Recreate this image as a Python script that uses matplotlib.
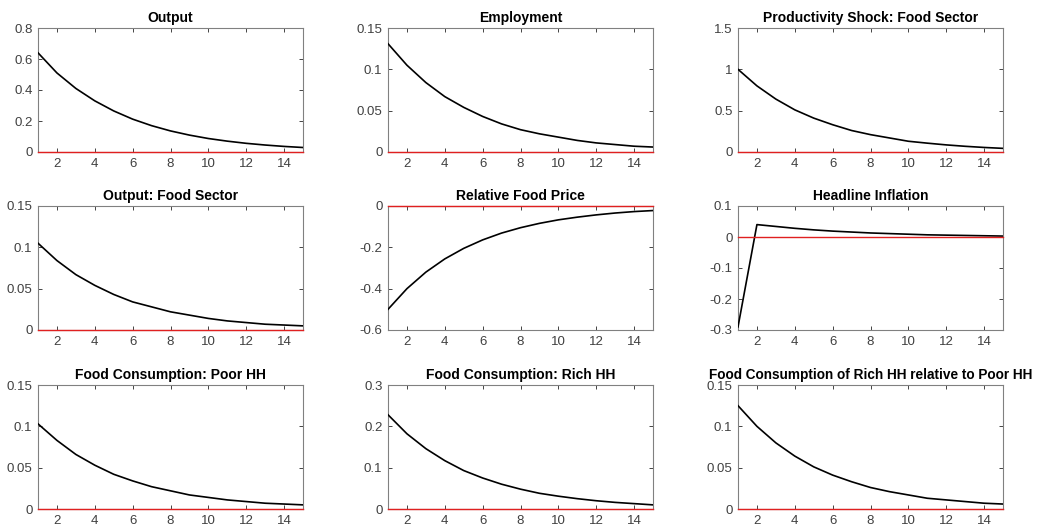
#!/usr/bin/env python3
"""Impulse responses to a food-sector productivity shock, 3x3 grid."""

import matplotlib
matplotlib.use("Agg")
import matplotlib.pyplot as plt
from matplotlib.ticker import FuncFormatter

periods = list(range(1, 16))

titles = [
    "Output",
    "Employment",
    "Productivity Shock: Food Sector",
    "Output: Food Sector",
    "Relative Food Price",
    "Headline Inflation",
    "Food Consumption: Poor HH",
    "Food Consumption: Rich HH",
    "Food Consumption of Rich HH relative to Poor HH",
]

output = [0.64, 0.51, 0.41, 0.33, 0.265, 0.212, 0.17, 0.136, 0.109, 0.087,
          0.07, 0.056, 0.045, 0.036, 0.029]
employment = [0.131, 0.105, 0.084, 0.067, 0.054, 0.043, 0.034, 0.027, 0.022,
              0.018, 0.014, 0.011, 0.009, 0.007, 0.006]
productivity = [1.0, 0.8, 0.64, 0.51, 0.41, 0.33, 0.26, 0.21, 0.17, 0.13,
                0.107, 0.086, 0.069, 0.055, 0.044]
output_food = [0.105, 0.084, 0.067, 0.054, 0.043, 0.034, 0.028, 0.022, 0.018,
               0.014, 0.011, 0.009, 0.007, 0.006, 0.005]
rel_food_price = [-0.5, -0.4, -0.32, -0.256, -0.205, -0.164, -0.131, -0.105,
                  -0.084, -0.067, -0.054, -0.043, -0.034, -0.027, -0.022]
headline_infl = [-0.29, 0.04, 0.034, 0.028, 0.023, 0.019, 0.016, 0.013,
                 0.011, 0.009, 0.007, 0.006, 0.005, 0.004, 0.003]
cons_poor = [0.103, 0.083, 0.066, 0.053, 0.042, 0.034, 0.027, 0.022, 0.017,
             0.014, 0.011, 0.009, 0.007, 0.006, 0.005]
cons_rich = [0.228, 0.182, 0.146, 0.117, 0.093, 0.075, 0.06, 0.048, 0.038,
             0.031, 0.025, 0.02, 0.016, 0.013, 0.01]
cons_rel = [0.125, 0.1, 0.08, 0.064, 0.051, 0.041, 0.033, 0.026, 0.021,
            0.017, 0.013, 0.011, 0.009, 0.007, 0.006]

series = [output, employment, productivity, output_food, rel_food_price,
          headline_infl, cons_poor, cons_rich, cons_rel]

y_ticks = [
    [0, 0.2, 0.4, 0.6, 0.8],
    [0, 0.05, 0.1, 0.15],
    [0, 0.5, 1, 1.5],
    [0, 0.05, 0.1, 0.15],
    [-0.6, -0.4, -0.2, 0],
    [-0.3, -0.2, -0.1, 0, 0.1],
    [0, 0.05, 0.1, 0.15],
    [0, 0.1, 0.2, 0.3],
    [0, 0.05, 0.1, 0.15],
]
x_ticks = [2, 4, 6, 8, 10, 12, 14]

plt.rcParams["font.family"] = ["Liberation Sans", "DejaVu Sans"]

W, H = 1037, 527
fig = plt.figure(figsize=(W / 100, H / 100), dpi=100)

col_left = [38, 388, 738]
row_bottom = [152, 330, 509]
ax_w, ax_h = 265, 124
axis_grey = "#262626"
label_grey = "#404040"


def fmt(v, _pos):
    s = "{:g}".format(round(v, 4))
    return "0" if s == "-0" else s


for i, (title, y) in enumerate(zip(titles, series)):
    r, c = divmod(i, 3)
    ax = fig.add_axes([col_left[c] / W, 1 - row_bottom[r] / H, ax_w / W, ax_h / H])
    ax.plot(periods, [0] * len(periods), color="#e02020", linewidth=1.0,
            zorder=5, clip_on=False)
    ax.plot(periods, y, color="black", linewidth=1.2, zorder=4)
    ax.set_xlim(1, 15)
    ax.set_ylim(y_ticks[i][0], y_ticks[i][-1])
    ax.set_xticks(x_ticks)
    ax.set_yticks(y_ticks[i])
    ax.yaxis.set_major_formatter(FuncFormatter(fmt))
    ax.tick_params(direction="in", top=True, right=True, length=3, width=0.6,
                   colors=axis_grey, labelcolor=label_grey, labelsize=9.5, pad=4)
    for sp in ax.spines.values():
        sp.set_color("#808080")
        sp.set_linewidth(0.8)
    size = 9.8 if len(title) > 40 else 10
    ax.set_title(title, fontsize=size, fontweight="bold", color="black", pad=4)

fig.savefig("out.png", dpi=100)
